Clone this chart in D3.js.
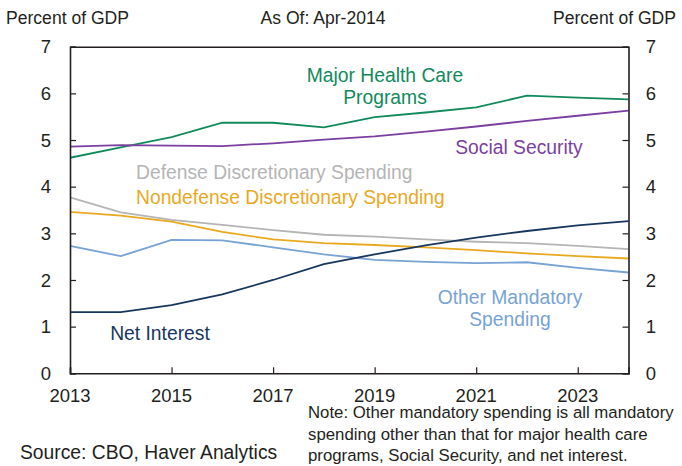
<!DOCTYPE html>
<html><head><meta charset="utf-8">
<script src="https://cdn.jsdelivr.net/npm/d3@7"></script>
<style>body{margin:0;background:#fff}svg{display:block}</style>
</head><body>
<script>
const years = [2013,2014,2015,2016,2017,2018,2019,2020,2021,2022,2023,2024];
const healthCare = [4.62,4.84,5.06,5.37,5.37,5.27,5.49,5.59,5.70,5.95,5.91,5.87];
const socialSecurity = [4.86,4.89,4.88,4.87,4.93,5.01,5.08,5.18,5.29,5.41,5.52,5.63];
const defense = [3.77,3.45,3.29,3.18,3.07,2.97,2.93,2.87,2.82,2.79,2.73,2.66];
const nondefense = [3.46,3.38,3.25,3.03,2.87,2.79,2.75,2.70,2.64,2.57,2.51,2.46];
const otherMandatory = [2.73,2.51,2.86,2.85,2.70,2.55,2.43,2.39,2.36,2.38,2.26,2.16];
const netInterest = [1.31,1.31,1.46,1.69,2.00,2.34,2.55,2.74,2.91,3.05,3.17,3.26];
const xTicks = [2013,2015,2017,2019,2021,2023];
const yTicks = [0,1,2,3,4,5,6,7];

const W=682,H=466;
const L=70,R=628.5,T=46.7,B=373.3;
const svg=d3.select("body").append("svg").attr("width",W).attr("height",H);
const x=d3.scaleLinear().domain([2013,2024]).range([L,R]);
const y=d3.scaleLinear().domain([0,7]).range([B,T]);
const font="'Liberation Sans', Arial, Helvetica, sans-serif";
const ink="#231f20";

const series=[
 {v:healthCare,c:"#118a5b"},
 {v:socialSecurity,c:"#7b3f9f"},
 {v:defense,c:"#b5b5b5"},
 {v:nondefense,c:"#e9a91f"},
 {v:otherMandatory,c:"#77a3d5"},
 {v:netInterest,c:"#17375e"}
];
const line=d3.line().x((d,i)=>x(years[i])).y(d=>y(d));
svg.append("g").selectAll("path").data(series).join("path")
 .attr("d",d=>line(d.v)).attr("fill","none").attr("stroke",d=>d.c).attr("stroke-width",1.8);

// axes / frame
const gl=svg.append("g").attr("transform",`translate(${L},0)`)
 .call(d3.axisRight(y).tickValues(yTicks).tickSize(6).tickFormat(""));
const gr=svg.append("g").attr("transform",`translate(${R},0)`)
 .call(d3.axisLeft(y).tickValues(yTicks).tickSize(6).tickFormat(""));
const gb=svg.append("g").attr("transform",`translate(0,${B})`)
 .call(d3.axisTop(x).tickValues(xTicks).tickSize(6).tickFormat(""));
const gt=svg.append("g").attr("transform",`translate(0,${T})`)
 .call(d3.axisBottom(x).tickValues([]).tickSize(0));
[gl,gr,gb,gt].forEach(g=>{g.selectAll("path").attr("stroke",ink).attr("stroke-width",1.6);g.selectAll("line").attr("stroke",ink).attr("stroke-width",1.2);});

// tick labels
const tfs="18.5px";
svg.append("g").selectAll("text").data(yTicks).join("text")
 .attr("x",46).attr("y",d=>y(d)).attr("dy","0.36em").attr("text-anchor","middle")
 .style("font-family",font).style("font-size",tfs).attr("fill",ink).text(d=>d);
svg.append("g").selectAll("text").data(yTicks).join("text")
 .attr("x",651).attr("y",d=>y(d)).attr("dy","0.36em").attr("text-anchor","middle")
 .style("font-family",font).style("font-size",tfs).attr("fill",ink).text(d=>d);
svg.append("g").selectAll("text").data(xTicks).join("text")
 .attr("x",d=>x(d)).attr("y",402).attr("text-anchor","middle")
 .style("font-family",font).style("font-size",tfs).attr("fill",ink).text(d=>d);

// header
const hdr=(t,xx,anchor)=>svg.append("text")
 .attr("transform",`translate(${xx},24) scale(0.95,1)`).attr("text-anchor",anchor)
 .style("font-family",font).style("font-size","18.5px").attr("fill",ink).text(t);
hdr("Percent of GDP",6,"start");
hdr("As Of: Apr-2014",323,"middle");
hdr("Percent of GDP",676,"end");

// series labels
const lab=(lines,xx,yy,c,anchor)=>{
 const t=svg.append("text").attr("x",xx).attr("y",yy).attr("text-anchor",anchor)
  .style("font-family",font).style("font-size","19.3px").attr("fill",c);
 lines.forEach((s,i)=>t.append("tspan").attr("x",xx).attr("dy",i?22:0).text(s));
};
lab(["Major Health Care","Programs"],385,82,"#118a5b","middle");
lab(["Social Security"],519,153.5,"#7b3f9f","middle");
lab(["Defense Discretionary Spending"],136,178.5,"#b5b5b5","start");
lab(["Nondefense Discretionary Spending"],136,203.5,"#e9a91f","start");
lab(["Net Interest"],160,340,"#17375e","middle");
lab(["Other Mandatory","Spending"],510,303.5,"#77a3d5","middle");

// footer
svg.append("text").attr("x",20).attr("y",459).style("font-family",font).style("font-size","19.3px")
 .attr("fill",ink).text("Source: CBO, Haver Analytics");
const note=["Note: Other mandatory spending is all mandatory","spending other than that for major health care","programs, Social Security, and net interest."];
svg.append("g").selectAll("text").data(note).join("text")
 .attr("x",308).attr("y",(d,i)=>418+i*21.5).style("font-family",font).style("font-size","16.8px")
 .attr("fill",ink).text(d=>d);
</script>
</body></html>
